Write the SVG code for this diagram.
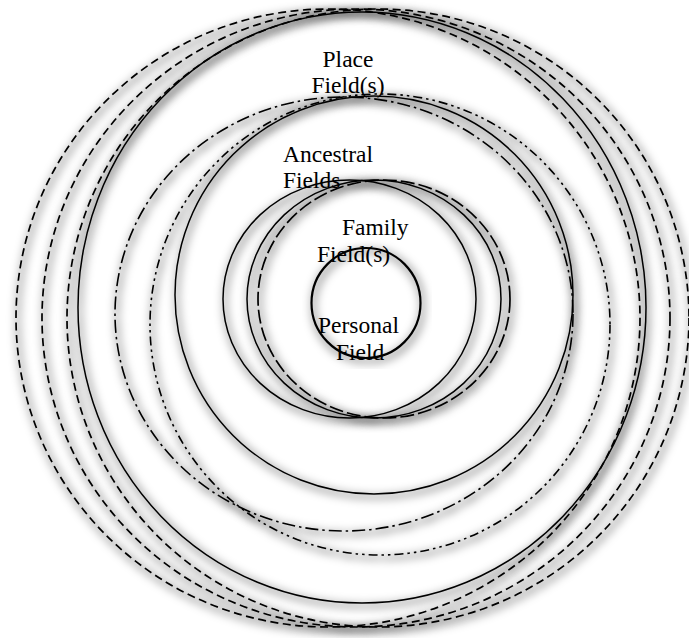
<svg xmlns="http://www.w3.org/2000/svg" width="689" height="638" viewBox="0 0 689 638">
<style>
.ln{fill:none;stroke:#000;stroke-width:1.5;filter:url(#sh)}
.dash{stroke-width:1.7;stroke-dasharray:8 4.5}
.dd1{stroke-width:1.6;stroke-dasharray:13 4 2.5 4}
.dd2{stroke-width:1.6;stroke-dasharray:9 4 2.5 4 2.5 4}
.thick{stroke-width:2.2}
text{font-family:"Liberation Serif","Times New Roman",serif;font-size:23.5px;fill:#000}
</style>
<defs>
<filter id="sh" x="-10%" y="-10%" width="120%" height="120%">
<feMorphology in="SourceAlpha" operator="dilate" radius="2" result="d"/>
<feGaussianBlur in="d" stdDeviation="4"/>
<feOffset dx="2" dy="3" result="b"/>
<feFlood flood-color="#000" flood-opacity="0.3"/>
<feComposite in2="b" operator="in"/>
<feMerge><feMergeNode/><feMergeNode in="SourceGraphic"/></feMerge>
</filter>
</defs>
<rect width="689" height="638" fill="#fff"/>
<g id="labels">
<g id="label-place"><text x="348" y="67" text-anchor="middle">Place</text><text x="348" y="93" text-anchor="middle">Field(s)</text></g>
<g id="label-ancestral"><text x="283" y="162">Ancestral</text><text x="283" y="188">Fields</text></g>
<g id="label-family"><text x="342" y="235">Family</text><text x="317" y="262">Field(s)</text></g>
<g id="label-personal"><text x="318" y="333">Personal</text><text x="336" y="360">Field</text></g>
</g>
<g id="outer-dashed-a"><ellipse class="ln dash" cx="328" cy="318" rx="312" ry="309"/></g>
<g id="outer-dashed-b"><ellipse class="ln dash" cx="356" cy="318" rx="314" ry="309"/></g>
<g id="outer-dashed-c"><ellipse class="ln dash" cx="378" cy="318" rx="311" ry="309"/></g>
<g id="outer-solid"><ellipse class="ln" cx="362" cy="307.5" rx="284" ry="295.5"/></g>
<g id="place-dashdot-p"><ellipse class="ln dd1" cx="344" cy="314" rx="229" ry="217"/></g>
<g id="place-dashdot-q"><ellipse class="ln dd2" cx="380" cy="324.5" rx="230" ry="230.5"/></g>
<g id="place-field"><ellipse class="ln" cx="374" cy="295" rx="199" ry="199"/></g>
<g id="ancestral-field"><ellipse class="ln" cx="349.5" cy="299" rx="126.5" ry="119"/></g>
<g id="family-field-1"><ellipse class="ln" cx="374" cy="299" rx="127" ry="119"/></g>
<g id="family-field-2"><ellipse class="ln dash" cx="384" cy="299" rx="126" ry="119" style="stroke-dasharray:14 4"/></g>
<g id="personal-field"><ellipse class="ln thick" cx="366" cy="303" rx="54.5" ry="55"/></g>
<g id="connectors"/>
</svg>
